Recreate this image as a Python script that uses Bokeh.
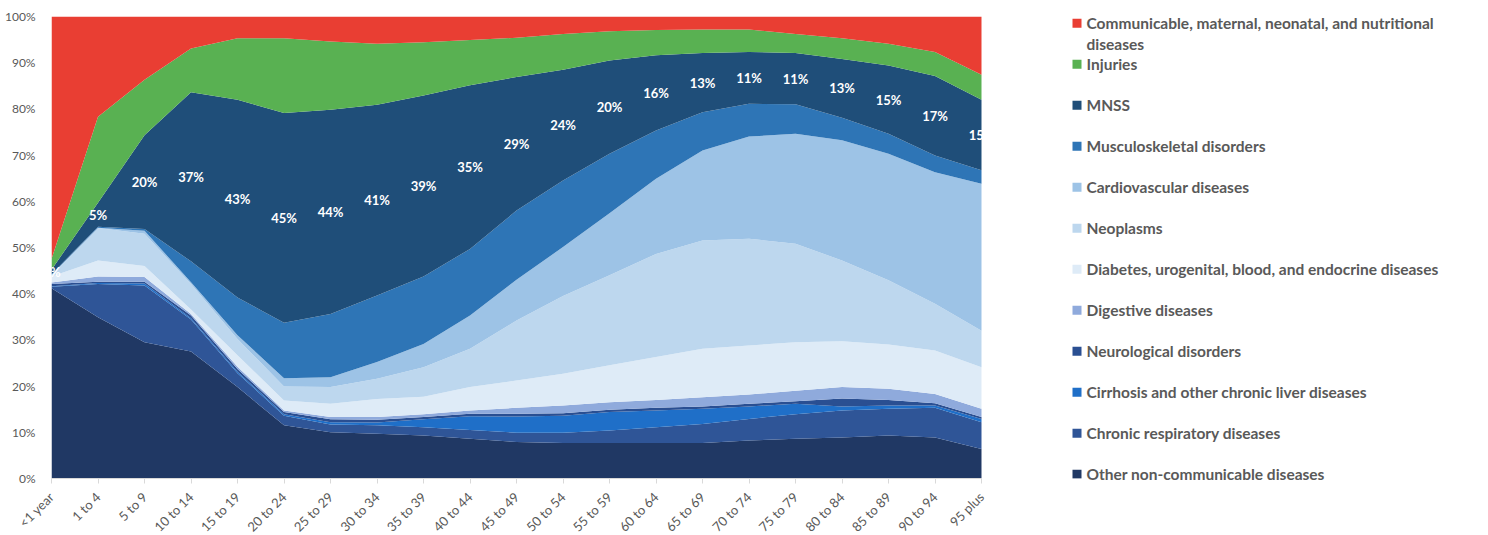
import math
from bokeh.plotting import figure
from bokeh.models import (ColumnDataSource, Range1d, FixedTicker, PrintfTickFormatter,
                          LinearAxis)
from bokeh.core.properties import value
from bokeh.embed import file_html
from bokeh.resources import INLINE

categories = ["<1 year", "1 to 4", "5 to 9", "10 to 14", "15 to 19", "20 to 24", "25 to 29",
              "30 to 34", "35 to 39", "40 to 44", "45 to 49", "50 to 54", "55 to 59", "60 to 64",
              "65 to 69", "70 to 74", "75 to 79", "80 to 84", "85 to 89", "90 to 94", "95 plus"]

# share of DALYs (%) per age group, bottom layer first
other_ncd = [41.2, 34.9, 29.5, 27.5, 19.8, 11.5, 10.0, 9.7, 9.3, 8.6, 7.9, 7.7, 7.7, 7.7, 7.7, 8.2, 8.6, 8.9, 9.3, 8.9, 6.4]
chronic_resp = [0.3, 7.2, 12.3, 6.9, 3.0, 2.1, 1.7, 1.8, 1.8, 1.9, 2.0, 2.2, 2.7, 3.4, 4.1, 4.7, 5.3, 5.8, 5.8, 6.4, 5.8]
cirrhosis = [0.1, 0.2, 0.4, 0.3, 0.3, 0.3, 0.5, 0.6, 1.7, 3.0, 3.5, 3.7, 4.0, 3.6, 3.3, 2.7, 2.3, 0.9, 0.7, 0.5, 0.7]
neurological = [0.5, 0.3, 0.4, 0.6, 0.6, 0.5, 0.6, 0.6, 0.5, 0.5, 0.6, 0.5, 0.5, 0.6, 0.5, 0.6, 0.5, 1.7, 1.2, 0.5, 0.4]
digestive = [0.3, 1.1, 1.0, 0.3, 0.5, 0.3, 0.5, 0.6, 0.6, 0.7, 1.3, 1.7, 1.6, 1.7, 2.0, 2.0, 2.3, 2.5, 2.4, 2.0, 1.8]
diabetes = [1.3, 3.5, 2.4, 1.0, 2.5, 2.2, 2.9, 3.9, 3.8, 5.1, 5.9, 6.9, 8.0, 9.3, 10.5, 10.6, 10.5, 9.9, 9.6, 9.4, 9.0]
neoplasms = [0.3, 7.0, 7.0, 5.5, 3.5, 3.0, 3.6, 4.4, 6.4, 8.3, 13.0, 16.8, 19.5, 22.3, 23.4, 23.1, 21.3, 17.5, 13.9, 10.1, 7.9]
cardiovascular = [0.1, 0.1, 0.6, 0.4, 0.8, 1.8, 2.1, 3.6, 5.0, 7.2, 8.8, 10.6, 13.4, 16.3, 19.5, 22.1, 23.8, 26.0, 27.4, 28.5, 31.8]
musculoskeletal = [0.1, 0.2, 0.4, 4.5, 8.2, 12.0, 13.7, 14.4, 14.6, 14.4, 15.0, 14.4, 12.9, 10.4, 8.3, 7.1, 6.4, 4.9, 4.3, 3.6, 2.9]
mnss = [1.0, 5.2, 20.3, 36.6, 42.8, 45.4, 44.2, 41.3, 39.2, 35.4, 28.9, 24.0, 20.2, 16.3, 12.8, 11.2, 11.1, 12.7, 14.8, 17.2, 15.3]
injuries = [2.3, 18.6, 12.0, 9.5, 13.3, 16.2, 14.8, 13.2, 11.5, 9.8, 8.5, 7.7, 6.3, 5.5, 5.1, 4.9, 4.1, 4.5, 4.7, 5.2, 5.4]
communicable = [52.5, 21.7, 13.7, 6.9, 4.7, 4.7, 5.4, 5.9, 5.6, 5.1, 4.6, 3.8, 3.2, 2.9, 2.8, 2.8, 3.8, 4.7, 5.9, 7.7, 12.6]

series_names = ["Other non-communicable diseases", "Chronic respiratory diseases",
                "Cirrhosis and other chronic liver diseases", "Neurological disorders",
                "Digestive diseases", "Diabetes, urogenital, blood, and endocrine diseases",
                "Neoplasms", "Cardiovascular diseases", "Musculoskeletal disorders", "MNSS",
                "Injuries", "Communicable, maternal, neonatal, and nutritional diseases"]
series_values = [other_ncd, chronic_resp, cirrhosis, neurological, digestive, diabetes,
                 neoplasms, cardiovascular, musculoskeletal, mnss, injuries, communicable]
colors = ["#203864", "#2F5597", "#1F6FC8", "#2A4F92", "#8FAADC", "#DEEBF7",
          "#BDD7EE", "#9DC3E6", "#2E75B6", "#1F4E79", "#59B152", "#E93E33"]

FONT = "Lato"
GREY = "#595959"

# ---- geometry (pixels) ----
BL, BT = 51, 16            # frame offset
PLOT_W, FH = 930, 462      # width of the area chart, frame height
LEG_SQ = 101               # extra frame width to the right holding the legend squares
FW = PLOT_W + LEG_SQ
W, H = 1483, 534
n_cat = len(categories)
x_end = (n_cat - 1) * FW / PLOT_W

keys = [f"s{i}" for i in range(len(series_values))]
data = {"x": list(range(n_cat))}
for k, v in zip(keys, series_values):
    data[k] = v
src = ColumnDataSource(data)

# legend slots: half-pitch rows, slot 0 = first line, slot 1 = wrapped line
slot0, half_pitch = 22.7, 20.5
p = figure(frame_width=FW, frame_height=FH, x_range=Range1d(0, x_end),
           y_range=Range1d(0, 100), toolbar_location=None, output_backend="svg",
           min_border_left=BL, min_border_top=BT, min_border_right=W - BL - FW,
           min_border_bottom=H - BT - FH,
           outline_line_color=None, background_fill_color="white", border_fill_color="white")
p.styles = {"outline": "1px solid #D9D9D9", "outline-offset": "-3px"}
p.extra_x_ranges = {"px": Range1d(BL, BL + FW)}
p.extra_y_ranges = {"leg": Range1d((BT + FH - slot0) / half_pitch, (BT - slot0) / half_pitch)}

renderers = p.varea_stack(stackers=keys, x="x", color=colors, source=src)

# MNSS data labels at the middle of the MNSS band
idx_mnss = 9
mids, texts = [], []
for j in range(n_cat):
    below = sum(series_values[i][j] for i in range(idx_mnss))
    mids.append(below + mnss[j] / 2)
    texts.append(f"{round(mnss[j])}%")
lbl = ColumnDataSource(dict(x=list(range(n_cat)), y=mids, t=texts))
p.text(x="x", y="y", text="t", source=lbl, text_color="white", text_font=value(FONT),
       text_font_style="bold", text_font_size="13px", text_align="center",
       text_baseline="middle")

p.grid.visible = False

p.yaxis.ticker = FixedTicker(ticks=list(range(0, 101, 10)))
p.yaxis.formatter = PrintfTickFormatter(format="%d%%")
p.yaxis.axis_line_color = None
p.yaxis.major_tick_line_color = None
p.yaxis.minor_tick_line_color = None
p.yaxis.major_label_standoff = 10
p.yaxis.major_label_text_font = FONT
p.yaxis.major_label_text_font_size = "12px"
p.yaxis.major_label_text_color = GREY

p.xaxis.ticker = FixedTicker(ticks=list(range(n_cat)))
p.xaxis.bounds = (0, n_cat - 1)
p.xaxis.major_label_overrides = {i: c for i, c in enumerate(categories)}
p.xaxis.major_label_orientation = math.pi / 4
p.xaxis.axis_line_color = "#D9D9D9"
p.xaxis.major_tick_line_color = "#D9D9D9"
p.xaxis.major_tick_out = 5
p.xaxis.major_tick_in = 0
p.xaxis.minor_tick_line_color = None
p.xaxis.major_label_standoff = 11
p.xaxis.major_label_text_font = FONT
p.xaxis.major_label_text_font_size = "13px"
p.xaxis.major_label_text_color = GREY

# legend: top series first; squares inside the frame, names as right-axis labels
order = list(range(len(series_names)))[::-1]
leg_slots, leg_labels = [], {}
sq_slots, sq_colors = [], []
for n, i in enumerate(order):
    s = 0 if n == 0 else 2 * n
    name = series_names[i]
    if n == 0:
        first, rest = name.rsplit(" ", 1)
        leg_labels[0] = first
        leg_labels[1] = rest
        leg_slots += [0, 1]
    else:
        leg_labels[s] = name
        leg_slots.append(s)
    sq_slots.append(s)
    sq_colors.append(colors[i])

p.scatter(x=[BL + FW - 5.5] * len(sq_slots), y=sq_slots, marker="square", size=9,
          color=sq_colors, line_color=None, x_range_name="px", y_range_name="leg")

leg_axis = LinearAxis(y_range_name="leg", ticker=FixedTicker(ticks=leg_slots),
                      major_label_overrides=leg_labels, axis_line_color=None,
                      major_tick_line_color=None, minor_tick_line_color=None,
                      major_tick_in=0, major_tick_out=0,
                      major_label_standoff=4, major_label_text_font=FONT,
                      major_label_text_font_style="bold",
                      major_label_text_font_size="15.5px", major_label_text_color=GREY)
p.add_layout(leg_axis, "right")

open("out.html", "w").write(file_html(p, INLINE))
